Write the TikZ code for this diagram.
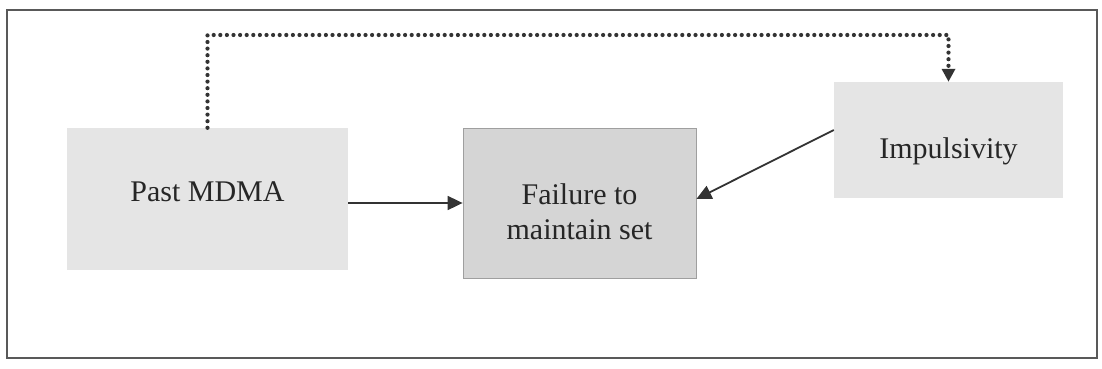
\documentclass[tikz,border=0pt]{standalone}
\usepackage{fontspec}
\setmainfont{Liberation Serif}
\usetikzlibrary{arrows.meta, positioning}

\begin{document}
\begin{tikzpicture}[
        x=1pt, y=-1pt,
        every node/.style={font=\fontsize{30}{35}\selectfont, text=black!85},
        factor/.style={rectangle, fill=gray!20, align=center, inner sep=0pt},
        outcome/.style={rectangle, fill=gray!33, draw=gray!75, line width=0.8pt, align=center, inner sep=0pt},
        arrow/.style={-{Triangle[width=14pt, length=15pt]}, line width=1.8pt, black!80},
        dots/.style={-{Triangle[width=13pt, length=13pt]}, line width=4.2pt, black!80,
            dash pattern=on 0pt off 6.6pt, line cap=round}
    ]
        \useasboundingbox (0,0) rectangle (1102,369);

        % Frame
        \draw[line width=1.5pt, black!65] (7,10) rectangle (1097,358);

        % Nodes
        \node[factor, minimum width=281pt, minimum height=142pt, text height=20pt, text depth=16pt] (past) at (207.5,199) {Past MDMA};
        \node[outcome, minimum width=233pt, minimum height=150pt, text height=73pt, text depth=0pt] (failure) at (579.5,203) {Failure to\\ maintain set};
        \node[factor, minimum width=229pt, minimum height=116pt, text height=44pt, text depth=7pt] (impuls) at (948.5,140) {Impulsivity};
        \coordinate (bend) at (948.5,35);

        % Arrows
        \draw[arrow] (past.east |- failure.west) -- (failure.west);
        \draw[arrow] ([yshift=10pt]impuls.west) -- ([yshift=4pt]failure.east);
        \draw[dots] (past.north) |- (bend) -- (impuls.north);

    \end{tikzpicture}
\end{document}
